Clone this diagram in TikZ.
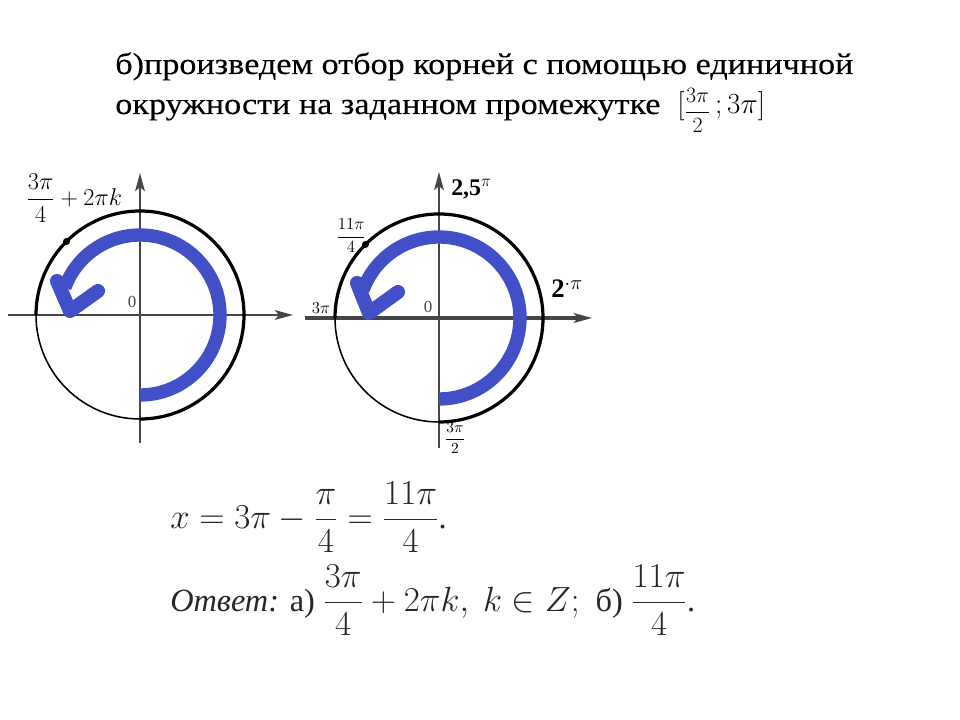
\documentclass[tikz,border=0pt]{standalone}
\usepackage{amsmath}
\usepackage{graphicx}
\usepackage{fontspec}
\setmainfont{Liberation Serif}
\newfontfamily\titlefont[FakeStretch=1.13,FakeBold=0.2]{Liberation Serif}
\usetikzlibrary{arrows.meta}
\definecolor{arcblue}{RGB}{66,80,200}
\definecolor{axisgray}{RGB}{70,70,70}

\begin{document}
\begin{tikzpicture}[x=0.025cm,y=0.025cm,
    title/.style={anchor=base west,inner sep=0pt,font=\titlefont\fontsize{21.5}{25}\selectfont},
    answer/.style={anchor=west,inner sep=0pt,black!85,font=\fontsize{23}{27}\selectfont},
    lbl/.style={inner sep=0pt},
    axis/.style={axisgray,-{Stealth[length=13pt,width=7pt,inset=3pt]}},
    bluearc/.style={arcblue,line width=9.5pt},
    bluearm/.style={arcblue,line width=10pt,line cap=round,line join=round}]
    \useasboundingbox (0,0) rectangle (960,-720);
    \node[title] (t1) at (115,-74) {б)произведем отбор корней с помощью единичной};
    \node[title] (t2) at (115,-114) {окружности на заданном промежутке \ $[\raisebox{-0.12em}{\scalebox{0.75}{$\dfrac{3\pi}{2}$}}\,;3\pi]$};
    \coordinate (L) at (140,-315);
    \coordinate (R) at (439,-318);
    \draw[axis,line width=1.1pt] (8,-315) -- (293,-315);
    \draw[axis,line width=1pt] (140,-443) -- (140,-173);
    \draw[axis,line width=2.2pt] (305,-318) -- (592,-318);
    \draw[axis,line width=1pt] (439,-448) -- (439,-172);
    \foreach \c/\r in {L/80, R/81} {
        \draw[line width=2.3pt] (\c) ++(-90:104) arc[start angle=-90,end angle=180,radius=104];
        \draw[line width=1.1pt] (\c) ++(180:104) arc[start angle=180,end angle=270,radius=104];
        \draw[bluearc] (\c) ++(-90:\r) arc[start angle=-90,end angle=160,radius=\r];
        \fill (\c) ++(135:104) circle[radius=3.5];
    }
    \draw[bluearm] (57,-281) -- (70,-311) -- (98,-291);
    \draw[bluearm] (357,-283) -- (369,-313) -- (398,-292);
    \node[lbl,anchor=west,font=\fontsize{16}{19}\selectfont] (lk) at (26,-198) {$\dfrac{3\pi}{4}+2\pi k$};
    \node[lbl,axisgray,font=\fontsize{12}{14}\selectfont] (l0) at (132,-302) {0};
    \node[lbl,axisgray,font=\fontsize{12}{14}\selectfont] (r0) at (428,-307) {0};
    \node[lbl,anchor=west,font=\fontsize{17}{19}\selectfont] (r25) at (451,-189) {\textbf{2,5}$^{\pi}$};
    \node[lbl,font=\fontsize{13}{15}\selectfont] (r114) at (351,-236) {$\dfrac{11\pi}{4}$};
    \node[lbl,anchor=west,font=\fontsize{19}{21}\selectfont] (r2) at (551,-289) {\textbf{2}$^{\cdot\pi}$};
    \node[lbl,font=\fontsize{13}{15}\selectfont] (r3) at (321,-308) {$3\pi$};
    \node[lbl,font=\fontsize{11}{13}\selectfont] (r32) at (455,-438) {$\dfrac{3\pi}{2}$};
    \node[answer] (x) at (170,-517) {$x=3\pi-\dfrac{\pi}{4}=\dfrac{11\pi}{4}$.};
    \node[answer] (ans) at (170,-600) {\textit{Ответ:} а) $\dfrac{3\pi}{4}+2\pi k,\ k\in Z;$ \ б) $\dfrac{11\pi}{4}$.};
\end{tikzpicture}
\end{document}
